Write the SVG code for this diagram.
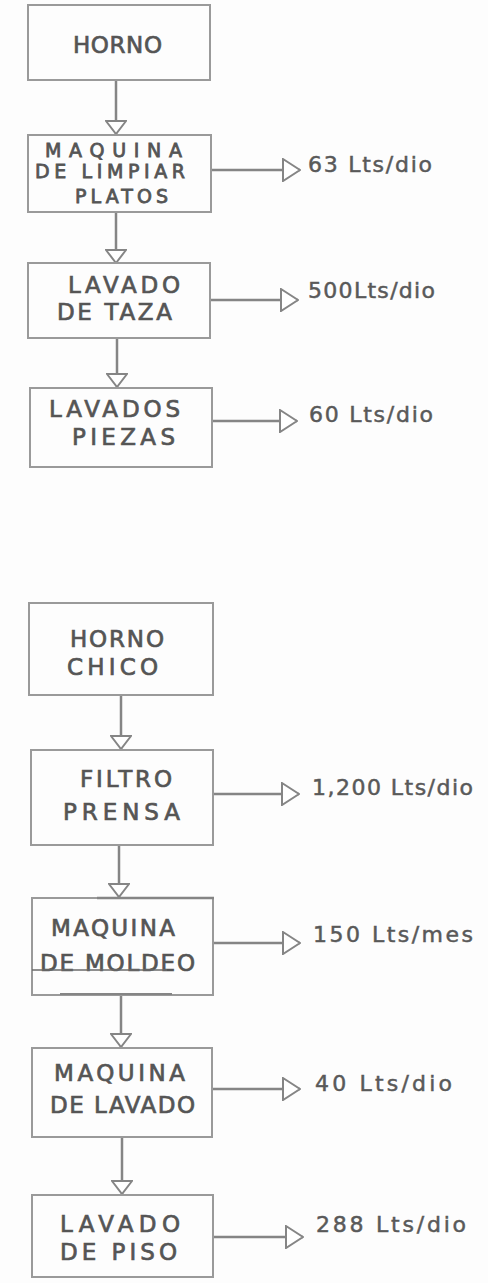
<svg xmlns="http://www.w3.org/2000/svg" width="488" height="1283" viewBox="0 0 488 1283">
  <style>
    .box { fill: none; stroke: #9a9a9a; stroke-width: 2; }
    .flow { fill: none; stroke: #858585; stroke-width: 2.5; }
    .lbl { font-family: "DejaVu Sans", "Liberation Sans", sans-serif; font-size: 23px; fill: #555555; stroke: #555555; stroke-width: 0.7; }
    .tight { font-size: 19px; stroke-width: 0.8; }
    .qty { font-family: "DejaVu Sans", "Liberation Sans", sans-serif; font-size: 22px; fill: #595959; stroke: #595959; stroke-width: 0.5; }
  </style>
  <defs>
    <marker id="headDown" viewBox="0 0 15 22" refX="14" refY="11" markerWidth="15" markerHeight="22" markerUnits="userSpaceOnUse" orient="auto">
      <path d="M1,1 L14,11 L1,21 Z" fill="#ffffff" stroke="#858585" stroke-width="2"/>
    </marker>
    <marker id="headRight" viewBox="0 0 19 24" refX="18" refY="12" markerWidth="19" markerHeight="24" markerUnits="userSpaceOnUse" orient="auto">
      <path d="M1,1 L18,12 L1,23 Z" fill="#ffffff" stroke="#858585" stroke-width="2"/>
    </marker>
  </defs>

  <rect width="488" height="1283" fill="#fdfdfd"/>

  <!-- connectors -->
  <g id="connectors" class="flow">
    <!-- upper chain -->
    <line x1="116" y1="80" x2="116" y2="134" marker-end="url(#headDown)"/>
    <line x1="211" y1="170" x2="300" y2="170" marker-end="url(#headRight)"/>
    <line x1="116" y1="212" x2="116" y2="263" marker-end="url(#headDown)"/>
    <line x1="210" y1="300" x2="298" y2="300" marker-end="url(#headRight)"/>
    <line x1="117" y1="338" x2="117" y2="387" marker-end="url(#headDown)"/>
    <line x1="212" y1="421" x2="297" y2="421" marker-end="url(#headRight)"/>
    <!-- lower chain -->
    <line x1="121" y1="695" x2="121" y2="749" marker-end="url(#headDown)"/>
    <line x1="213" y1="794" x2="299" y2="794" marker-end="url(#headRight)"/>
    <line x1="119" y1="845" x2="119" y2="897" marker-end="url(#headDown)"/>
    <line x1="213" y1="943" x2="300" y2="943" marker-end="url(#headRight)"/>
    <line x1="121" y1="995" x2="121" y2="1047" marker-end="url(#headDown)"/>
    <line x1="212" y1="1089" x2="300" y2="1089" marker-end="url(#headRight)"/>
    <line x1="122" y1="1137" x2="122" y2="1194" marker-end="url(#headDown)"/>
    <line x1="213" y1="1237" x2="303" y2="1237" marker-end="url(#headRight)"/>
  </g>

  <!-- upper chain nodes -->
  <g id="horno">
    <rect class="box" x="28" y="5" width="182" height="75"/>
    <text class="lbl" x="73" y="53" textLength="89" lengthAdjust="spacing">HORNO</text>
  </g>

  <g id="maquina-limpiar-platos">
    <rect class="box" x="28" y="135" width="183" height="77"/>
    <text class="lbl tight" x="45" y="157" textLength="137" lengthAdjust="spacing">MAQUINA</text>
    <text class="lbl tight" x="35" y="178" textLength="150" lengthAdjust="spacing">DE LIMPIAR</text>
    <text class="lbl tight" x="75" y="203" textLength="93" lengthAdjust="spacing">PLATOS</text>
  </g>
  <text class="qty" x="308" y="172" textLength="124" lengthAdjust="spacing">63 Lts/dio</text>

  <g id="lavado-taza">
    <rect class="box" x="28" y="263" width="182" height="75"/>
    <text class="lbl" x="68" y="293" textLength="112" lengthAdjust="spacing">LAVADO</text>
    <text class="lbl" x="57" y="320" textLength="115" lengthAdjust="spacing">DE TAZA</text>
  </g>
  <text class="qty" x="308" y="298" textLength="127" lengthAdjust="spacing">500Lts/dio</text>

  <g id="lavados-piezas">
    <rect class="box" x="30" y="388" width="182" height="79"/>
    <text class="lbl" x="49" y="417" textLength="131" lengthAdjust="spacing">LAVADOS</text>
    <text class="lbl" x="72" y="445" textLength="103" lengthAdjust="spacing">PIEZAS</text>
  </g>
  <text class="qty" x="309" y="422" textLength="124" lengthAdjust="spacing">60 Lts/dio</text>

  <!-- lower chain nodes -->
  <g id="horno-chico">
    <rect class="box" x="29" y="603" width="184" height="92"/>
    <text class="lbl" x="70" y="647" textLength="94" lengthAdjust="spacing">HORNO</text>
    <text class="lbl" x="67" y="675" textLength="91" lengthAdjust="spacing">CHICO</text>
  </g>

  <g id="filtro-prensa">
    <rect class="box" x="31" y="750" width="182" height="95"/>
    <text class="lbl" x="80" y="787" textLength="92" lengthAdjust="spacing">FILTRO</text>
    <text class="lbl" x="63" y="820" textLength="117" lengthAdjust="spacing">PRENSA</text>
  </g>
  <text class="qty" x="312" y="795" textLength="161" lengthAdjust="spacing">1,200 Lts/dio</text>

  <g id="maquina-moldeo">
    <rect class="box" x="32" y="898" width="181" height="97"/>
    <line x1="97" y1="898" x2="214" y2="898" stroke="#858585" stroke-width="2.5"/>
    <line x1="60" y1="994" x2="172" y2="994" stroke="#858585" stroke-width="2"/>
    <text class="lbl" x="51" y="936" textLength="124" lengthAdjust="spacing">MAQUINA</text>
    <text class="lbl" x="40" y="971" textLength="155" lengthAdjust="spacing">DE MOLDEO</text>
    <line x1="32" y1="970" x2="167" y2="970" stroke="#6a6a6a" stroke-width="1.5"/>
  </g>
  <text class="qty" x="313" y="942" textLength="160" lengthAdjust="spacing">150 Lts/mes</text>

  <g id="maquina-lavado">
    <rect class="box" x="32" y="1048" width="180" height="89"/>
    <text class="lbl" x="54" y="1081" textLength="131" lengthAdjust="spacing">MAQUINA</text>
    <text class="lbl" x="50" y="1113" textLength="145" lengthAdjust="spacing">DE LAVADO</text>
  </g>
  <text class="qty" x="315" y="1091" textLength="137" lengthAdjust="spacing">40 Lts/dio</text>

  <g id="lavado-piso">
    <rect class="box" x="32" y="1195" width="181" height="82"/>
    <text class="lbl" x="60" y="1232" textLength="120" lengthAdjust="spacing">LAVADO</text>
    <text class="lbl" x="60" y="1260" textLength="117" lengthAdjust="spacing">DE PISO</text>
  </g>
  <text class="qty" x="316" y="1232" textLength="150" lengthAdjust="spacing">288 Lts/dio</text>
</svg>
